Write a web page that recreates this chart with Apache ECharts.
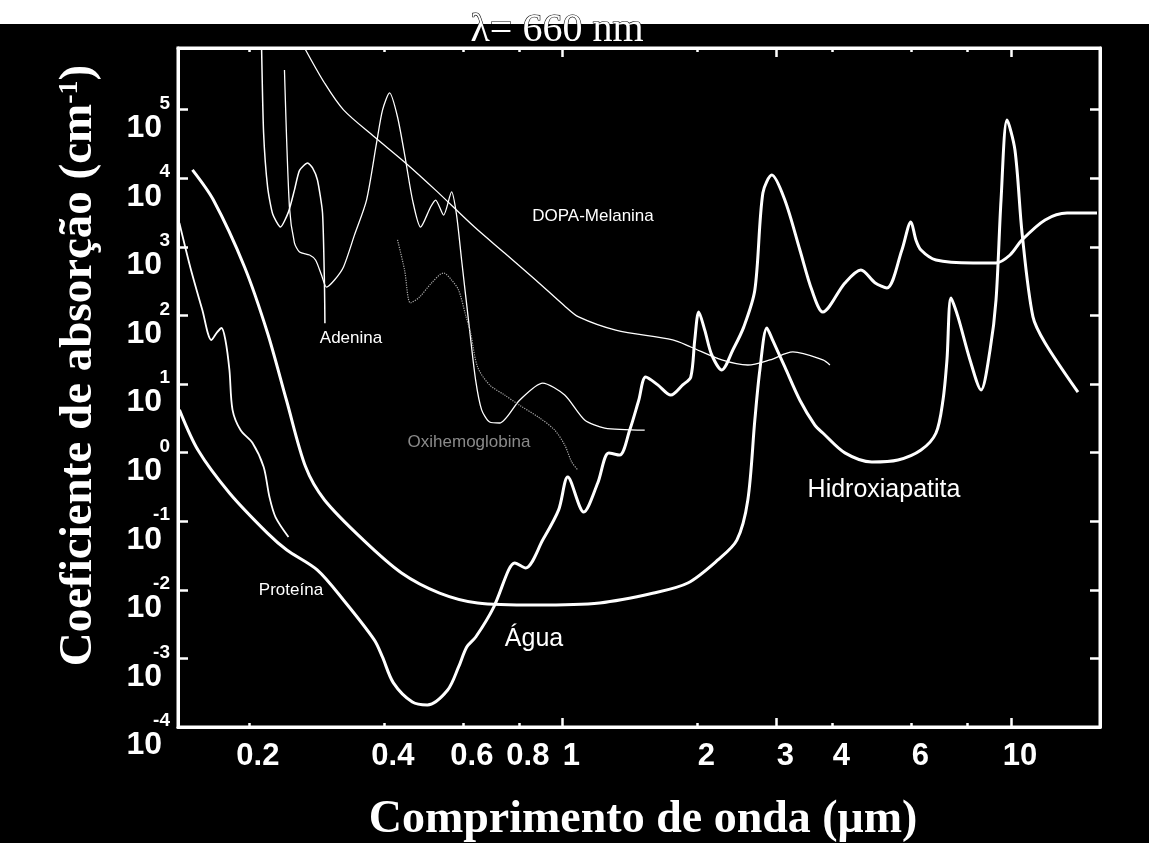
<!DOCTYPE html>
<html><head><meta charset="utf-8">
<script src="https://cdn.jsdelivr.net/npm/echarts@6/dist/echarts.min.js"></script>
<style>html,body{margin:0;padding:0;background:#000}#c{width:1149px;height:843px}</style>
</head><body><div id="c"></div><script>
// Axis ranges (wavelength in µm, absorption coefficient in cm^-1)
const X_MIN = 0.139, X_MAX = 15.8;
const Y_MIN = 1e-4, Y_MAX = 7.9e5;
const xTickLabels = [0.2, 0.4, 0.6, 0.8, 1, 2, 3, 4, 6, 8, 10];
const xMajorTicks = [1, 3, 10];
const xMinorTicks = [0.2, 0.4, 0.6, 0.8, 2, 4, 6, 8];
const yTickExponents = [-4, -3, -2, -1, 0, 1, 2, 3, 4, 5];

// [wavelength µm, absorption cm^-1]
const agua = [
[0.140,4.2],[0.154,1.09],[0.181,0.258],[0.220,0.067],[0.243,0.038],[0.284,0.0195],[0.325,0.0071],
[0.381,0.00185],[0.397,0.00105],[0.420,0.00044],[0.463,0.000231],[0.50,0.00021],[0.555,0.000346],
[0.587,0.00075],[0.612,0.00147],[0.641,0.00205],[0.703,0.0056],[0.759,0.0195],[0.783,0.0246],
[0.828,0.0208],[0.904,0.053],[0.981,0.146],[1.028,0.44],[1.116,0.136],[1.199,0.36],[1.269,0.99],
[1.342,0.92],[1.413,2.13],[1.480,5.8],[1.534,12.6],[1.632,9.7],[1.745,6.9],[1.855,9.7],[1.933,12.6],
[1.973,43.8],[2.014,112],[2.077,61],[2.153,26.5],[2.267,16.0],[2.399,31.3],[2.538,68],[2.686,234],
[2.799,6100],[2.931,11100],[3.133,4800],[3.385,898],[3.599,234],[3.809,112],[4.265,297],[4.630,459],
[4.975,300],[5.292,251],[5.715,898],[5.985,2300],[6.141,1260],[6.303,898],[6.808,642],[8.233,581],
[9.265,581],[9.955,759],[10.59,1260],[11.92,2460],[13.34,3100],[15.56,3100]
];
const hidroxiapatita = [
[0.1497,13200],[0.1667,4800],[0.1956,508],[0.2202,55],[0.2426,5.8],[0.2676,0.62],[0.2949,0.204],
[0.3602,0.053],[0.438,0.0176],[0.5324,0.00897],[0.6471,0.00643],[0.8718,0.0060],[1.211,0.00643],
[1.598,0.00897],[1.904,0.01256],[2.221,0.0272],[2.449,0.053],[2.591,0.204],[2.686,2.99],[2.756,16],
[2.857,65.5],[2.95,42],[3.133,17.7],[3.385,5.8],[3.655,2.52],[3.809,1.93],[4.265,0.99],[4.898,0.73],
[5.600,0.78],[6.303,1.09],[6.808,1.93],[7.056,5.8],[7.202,22.4],[7.352,179],[7.621,95],[8.107,22.4],
[8.579,8.2],[8.984,31.3],[9.265,168],[9.506,4800],[9.804,70500],[10.21,25800],[10.59,1590],
[11.20,95],[11.92,39.6],[14.11,7.6]
];
const proteina = [
[0.140,2220],[0.148,508],[0.1575,120],[0.165,43.8],[0.170,57],[0.1738,65.5],[0.1773,43.8],
[0.181,16],[0.1839,4.2],[0.1916,2.13],[0.2038,1.38],[0.2157,0.62],[0.2223,0.225],[0.2293,0.115],
[0.2451,0.059]
];
const adenina = [
[0.2135,7.9e5],[0.2157,4.6e4],[0.2202,7.4e3],[0.226,3.0e3],[0.2352,1.94e3],[0.245,3.2e3],
[0.2527,6.7e3],[0.2594,1.3e4],[0.2703,1.67e4],[0.2775,1.4e4],[0.2844,9.4e3],[0.2919,3.1e3],
[0.2949,259],[0.2955,77]
];
const oxihemoglobina = [
[0.2401,3.78e5],[0.2463,3.8e3],[0.2527,1140],[0.2594,840],[0.2731,759],[0.2816,642],[0.2904,388],
[0.2979,259],[0.3104,328],[0.3251,508],[0.3440,1490],[0.3659,4800],[0.3852,32600],[0.3973,99000],
[0.4118,175000],[0.4290,78000],[0.4471,18400],[0.4634,4800],[0.4829,1940],[0.5084,3800],
[0.5216,4800],[0.5435,2900],[0.5662,6300],[0.5809,2900],[0.5961,642],[0.6212,61],[0.6406,11.4],
[0.6607,4.2],[0.6884,2.79],[0.7247,2.70],[0.8028,5.8],[0.9038,10.3],[1.012,6.9],[1.121,2.99],
[1.243,2.28],[1.526,2.13]
];
const dopaMelanina = [
[0.2662,7.9e5],[0.2949,2.44e5],[0.3251,9.9e4],[0.3813,3.99e4],[0.4471,1.67e4],[0.5216,6700],
[0.637,1940],[0.7434,812],[0.8718,328],[1.017,133],[1.087,95],[1.315,61],[1.762,43.8],[1.933,34.6],
[2.267,22.4],[2.591,18.9],[2.901,22.4],[3.265,29.3],[3.809,22.4],[3.949,18.9]
];
const hemoglobinaFaint = [
[0.429,1260],[0.4448,459],[0.4587,152],[0.4803,185],[0.511,297],[0.5435,415],[0.5662,328],
[0.5869,234],[0.6085,101],[0.6244,55],[0.6471,17.7],[0.6884,9.7],[0.7434,6.9],[0.8028,4.9],
[0.8901,3.19],[0.9612,2.13],[1.012,1.29],[1.049,0.73],[1.082,0.56]
];

const L = v => Math.log10(v);
const toLog = arr => arr.map(p => [L(p[0]), L(p[1])]);
const W = '#fff';
const SANS = '"Liberation Sans", Arial, sans-serif';
const SERIF = '"Liberation Serif", "Times New Roman", serif';

function xAx(pos, ticks, len, extra) {
  return Object.assign({
    type: 'value', gridIndex: 0, position: pos, min: L(X_MIN), max: L(X_MAX),
    splitLine: {show: false},
    axisLine: {show: false, onZero: false},
    axisTick: {show: true, inside: true, length: len, customValues: ticks.map(L), lineStyle: {color: W, width: 2.5}},
    axisLabel: {show: false}
  }, extra || {});
}
function yAx(pos, extra) {
  return Object.assign({
    type: 'value', gridIndex: 0, position: pos, min: L(Y_MIN), max: L(Y_MAX),
    splitLine: {show: false},
    axisLine: {show: true, onZero: false, lineStyle: {color: W, width: 3}},
    axisTick: {show: true, inside: true, length: 10, customValues: yTickExponents, lineStyle: {color: W, width: 2.5}},
    axisLabel: {show: false}
  }, extra || {});
}

const chart = echarts.init(document.getElementById('c'), null, {renderer: 'canvas'});
const line = (name, data, width, color, type, smooth) => ({
  type: 'line', name, data: toLog(data), showSymbol: false, smooth: smooth, silent: true,
  xAxisIndex: 0, yAxisIndex: 0,
  lineStyle: {color: color, width: width, type: type || 'solid'}
});

chart.setOption({
  animation: false,
  backgroundColor: '#000',
  grid: {left: 178, right: 49, top: 48, bottom: 116, outerBoundsMode: 'none', containLabel: false,
         show: true, borderColor: W, borderWidth: 3, backgroundColor: 'transparent'},
  xAxis: [
    xAx('bottom', xMajorTicks, 9, {
      axisLine: {show: true, onZero: false, lineStyle: {color: W, width: 3}},
      axisLabel: {
        show: true, customValues: xTickLabels.map(L), showMinLabel: true, showMaxLabel: true, hideOverlap: false,
        formatter: v => String(Number(Math.pow(10, v).toPrecision(3))),
        color: W, fontFamily: SANS, fontWeight: 'bold', fontSize: 31, lineHeight: 30,
        margin: 14, padding: [0, 0, 0, 18]
      },
      name: 'Comprimento de onda (\u03bcm)', nameLocation: 'middle', nameGap: 78,
      nameTextStyle: {color: W, fontFamily: SERIF, fontWeight: 'bold', fontSize: 46, lineHeight: 30, padding: [0, 0, 0, 8]}
    }),
    xAx('bottom', xMinorTicks, 4),
    xAx('top', xMajorTicks, 9, {axisLine: {show: true, onZero: false, lineStyle: {color: W, width: 3}}}),
    xAx('top', xMinorTicks, 4)
  ],
  yAxis: [
    yAx('left', {
      axisLabel: {
        show: true, customValues: yTickExponents, showMinLabel: true, showMaxLabel: true,
        formatter: v => '{s|' + Math.round(v) + '}\n{b|10}',
        margin: 8, padding: [18, 0, 0, 0], align: 'right',
        rich: {
          b: {fontSize: 32, fontWeight: 'bold', fontFamily: SANS, color: W, lineHeight: 30, align: 'right', padding: [0, 8, 0, 0]},
          s: {fontSize: 19, fontWeight: 'bold', fontFamily: SANS, color: W, lineHeight: 19, align: 'right'}
        }
      },
      name: 'Coeficiente de absorção (cm{sup|-1})', nameLocation: 'middle', nameGap: 76,
      nameTextStyle: {
        color: W, fontFamily: SERIF, fontWeight: 'bold', fontSize: 47, lineHeight: 46, padding: [0, 0, 0, 44],
        rich: {sup: {color: W, fontFamily: SERIF, fontWeight: 'bold', fontSize: 28, lineHeight: 28, verticalAlign: 'top'}}
      }
    }),
    yAx('right')
  ],
  series: [
    line('Água', agua, 3, W, 'solid', 0.3),
    line('Hidroxiapatita', hidroxiapatita, 3, W, 'solid', 0.3),
    line('Proteína', proteina, 1.8, W, 'solid', 0.3),
    line('Adenina', adenina, 1.5, W, 'solid', 0.2),
    line('Oxihemoglobina', oxihemoglobina, 1.3, W, 'solid', 0.25),
    line('DOPA-Melanina', dopaMelanina, 1.3, W, 'solid', 0.3),
    line('Hemoglobina', hemoglobinaFaint, 1.2, '#aaa', 'dotted', 0.3)
  ],
  graphic: [
    {type: 'rect', shape: {x: 0, y: 0, width: 1149, height: 24}, style: {fill: '#fff'}, z: 1},
    {type: 'text', x: 557, y: 30, z: 10, style: {text: 'λ= 660 nm', font: '40px ' + SERIF, fill: '#fff', stroke: '#000', lineWidth: 1.2, align: 'center', verticalAlign: 'middle'}},
    {type: 'text', x: 351, y: 338, z: 10, style: {text: 'Adenina', font: '17px ' + SANS, fill: W, align: 'center', verticalAlign: 'middle'}},
    {type: 'text', x: 593, y: 216, z: 10, style: {text: 'DOPA-Melanina', font: '17px ' + SANS, fill: W, align: 'center', verticalAlign: 'middle'}},
    {type: 'text', x: 469, y: 442, z: 10, style: {text: 'Oxihemoglobina', font: '17px ' + SANS, fill: '#8a8a8a', align: 'center', verticalAlign: 'middle'}},
    {type: 'text', x: 291, y: 590, z: 10, style: {text: 'Proteína', font: '17px ' + SANS, fill: W, align: 'center', verticalAlign: 'middle'}},
    {type: 'text', x: 534, y: 639, z: 10, style: {text: 'Água', font: '25px ' + SANS, fill: W, align: 'center', verticalAlign: 'middle'}},
    {type: 'text', x: 884, y: 490, z: 10, style: {text: 'Hidroxiapatita', font: '25px ' + SANS, fill: W, align: 'center', verticalAlign: 'middle'}}
  ]
});
</script></body></html>
